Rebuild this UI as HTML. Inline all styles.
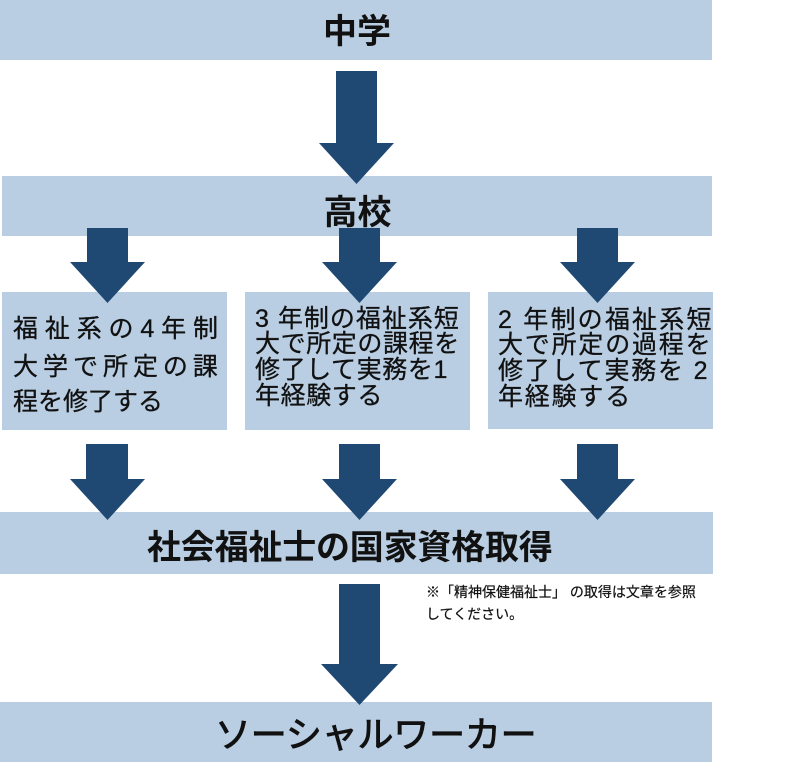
<!DOCTYPE html>
<html lang="ja">
<head>
<meta charset="utf-8">
<style>
  html, body { margin:0; padding:0; background:#fff; }
  body { width:803px; height:764px; position:relative; overflow:hidden;
         font-family:"Liberation Sans","Noto Sans CJK JP",sans-serif; color:#111; }
  .bar { position:absolute; background:#b9cee3; }
  .t { position:absolute; white-space:nowrap; }
  .big { font-size:34px; line-height:34px; font-weight:bold; }
  .bx { font-size:25px; -webkit-text-stroke:0.3px #111; }
  .row { position:absolute; display:flex; justify-content:space-between; white-space:nowrap; font-size:25px; line-height:30px; -webkit-text-stroke:0.3px #111; }
  svg { position:absolute; left:0; top:0; }
</style>
</head>
<body>
  <!-- bars -->
  <div class="bar" style="left:0;top:0;width:712px;height:60px;"></div>
  <div class="bar" style="left:2px;top:176px;width:710px;height:60px;"></div>
  <div class="bar" style="left:2px;top:292px;width:225px;height:138px;"></div>
  <div class="bar" style="left:245px;top:292px;width:225px;height:138px;"></div>
  <div class="bar" style="left:488px;top:292px;width:225px;height:137px;"></div>
  <div class="bar" style="left:0;top:512px;width:713px;height:62px;"></div>
  <div class="bar" style="left:0;top:702px;width:712px;height:60px;"></div>

  <!-- titles -->
  <div class="t big" style="left:0;top:15px;width:714px;text-align:center;">中学</div>
  <div class="t big" style="left:0;top:196px;width:715px;text-align:center;">高校</div>
  <div class="t big" style="left:147px;top:531px;letter-spacing:-0.2px;">社会福祉士の国家資格取得</div>
  <div class="t" style="left:215px;top:717px;font-size:36px;line-height:36px;letter-spacing:-0.2px;-webkit-text-stroke:0.9px #111;">ソーシャルワーカー</div>

  <!-- box 1 -->
  <div class="row" style="left:13px;top:314px;width:205px;">
    <span>福</span><span>祉</span><span>系</span><span>の</span><span>4</span><span>年</span><span>制</span>
  </div>
  <div class="row" style="left:13px;top:352px;width:205px;">
    <span>大</span><span>学</span><span>で</span><span>所</span><span>定</span><span>の</span><span>課</span>
  </div>
  <div class="t bx" style="left:13px;top:387px;line-height:30px;">程を修了する</div>

  <!-- box 2 -->
  <div class="t bx" style="left:255px;top:306px;line-height:26px;letter-spacing:1px;">3 年制の福祉系短</div>
  <div class="t bx" style="left:255px;top:331px;line-height:26px;letter-spacing:0.6px;">大で所定の課程を</div>
  <div class="t bx" style="left:255px;top:357px;line-height:26px;letter-spacing:0.6px;">修了して実務を1</div>
  <div class="t bx" style="left:255px;top:383px;line-height:26px;letter-spacing:0.6px;">年経験する</div>

  <!-- box 3 -->
  <div class="t bx" style="left:498px;top:307px;line-height:26px;letter-spacing:2.2px;">2 年制の福祉系短</div>
  <div class="t bx" style="left:498px;top:332px;line-height:26px;letter-spacing:1.8px;">大で所定の過程を</div>
  <div class="t bx" style="left:498px;top:358px;line-height:26px;letter-spacing:1.8px;">修了して実務を 2</div>
  <div class="t bx" style="left:498px;top:384px;line-height:26px;letter-spacing:1.8px;">年経験する</div>

  <!-- note -->
  <div class="t" style="left:426px;top:581px;font-size:14px;line-height:22px;color:#111;-webkit-text-stroke:0.2px #111;">※「精神保健福祉士」 の取得は文章を参照</div>
  <div class="t" style="left:426px;top:603px;font-size:14px;line-height:22px;color:#111;-webkit-text-stroke:0.2px #111;">してください。</div>

  <!-- arrows -->
  <svg width="803" height="764" viewBox="0 0 803 764">
    <g fill="#1f4973">
      <polygon points="336,71 377,71 377,143 394,143 356.5,184 319,143 336,143"/>
      <polygon points="87,228 128,228 128,262 145,262 107.5,303 70,262 87,262"/>
      <polygon points="339,228 380,228 380,262 397,262 359.5,303 322,262 339,262"/>
      <polygon points="577,228 618,228 618,262 635,262 597.5,303 560,262 577,262"/>
      <polygon points="86,444 128,444 128,479 145,479 107.5,520 70,479 86,479"/>
      <polygon points="339,444 380,444 380,479 397,479 359.5,520 322,479 339,479"/>
      <polygon points="577,444 618,444 618,479 635,479 597.5,520 560,479 577,479"/>
      <polygon points="339,584 380,584 380,664 398,664 359.5,705 321,664 339,664"/>
    </g>
  </svg>
</body>
</html>
